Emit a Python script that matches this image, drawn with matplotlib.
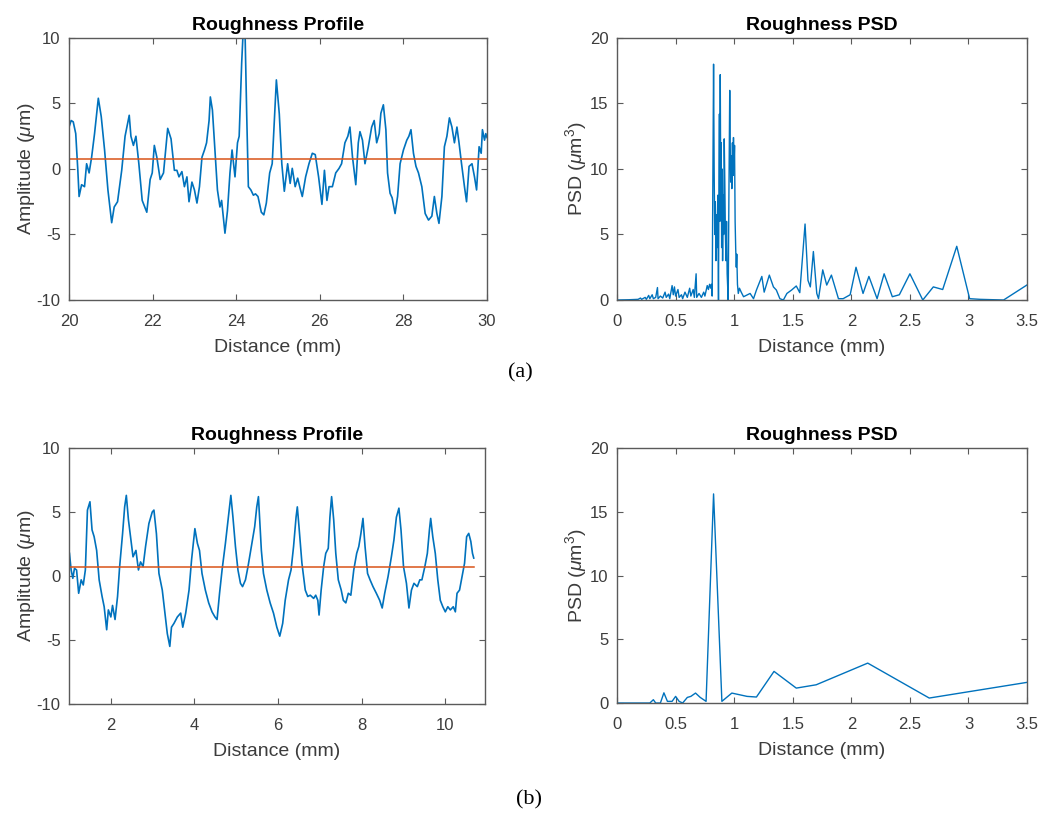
import matplotlib
matplotlib.use('Agg')
import matplotlib.pyplot as plt

# (a) roughness profile
prof_a_x = [20.0, 20.05, 20.1, 20.16, 20.21, 20.24, 20.3, 20.37, 20.42, 20.48, 20.54, 20.61, 20.7, 20.77,
            20.85, 20.93, 21.02, 21.08, 21.16, 21.26, 21.34, 21.44, 21.48, 21.54, 21.6, 21.67, 21.75, 21.86,
            21.94, 21.99, 22.04, 22.1, 22.18, 22.26, 22.36, 22.44, 22.52, 22.58, 22.63, 22.7, 22.76, 22.82,
            22.87, 22.94, 23.0, 23.06, 23.12, 23.18, 23.24, 23.29, 23.35, 23.38, 23.43, 23.49, 23.55, 23.61,
            23.65, 23.73, 23.79, 23.85, 23.9, 23.97, 24.03, 24.07, 24.13, 24.17, 24.21, 24.25, 24.29, 24.35,
            24.41, 24.46, 24.52, 24.6, 24.66, 24.72, 24.8, 24.86, 24.9, 24.96, 25.03, 25.09, 25.15, 25.23,
            25.29, 25.34, 25.41, 25.47, 25.53, 25.58, 25.66, 25.74, 25.82, 25.89, 25.97, 26.05, 26.11, 26.17,
            26.22, 26.3, 26.38, 26.46, 26.52, 26.6, 26.67, 26.72, 26.78, 26.86, 26.92, 26.96, 27.02, 27.08,
            27.16, 27.24, 27.3, 27.36, 27.42, 27.46, 27.52, 27.58, 27.62, 27.68, 27.73, 27.8, 27.86, 27.92,
            28.0, 28.08, 28.13, 28.18, 28.24, 28.3, 28.36, 28.44, 28.52, 28.6, 28.68, 28.74, 28.8, 28.85,
            28.92, 28.98, 29.04, 29.1, 29.16, 29.22, 29.28, 29.33, 29.39, 29.46, 29.51, 29.57, 29.64, 29.7,
            29.75, 29.81, 29.86, 29.89, 29.94, 29.97, 30.0]
prof_a_y = [3.2, 3.7, 3.6, 2.7, -0.1, -2.1, -1.2, -1.35, 0.4, -0.3, 0.9, 2.7, 5.4, 4.0,
            1.45, -1.6, -4.1, -2.9, -2.5, -0.1, 2.5, 4.1, 2.5, 1.8, 2.5, 0.4, -2.4, -3.3,
            -0.8, -0.3, 1.8, 0.9, -0.8, -0.3, 3.1, 2.3, -0.1, -0.1, -0.6, -0.2, -1.35, -0.6,
            -2.5, -1.0, -1.6, -2.6, -1.35, 0.9, 1.45, 2.0, 3.7, 5.5, 4.5, 1.45, -1.6, -2.9,
            -2.4, -4.9, -3.2, -0.3, 1.45, -0.6, 2.0, 2.5, 8.1, 10.8, 10.5, 4.2, -1.35, -1.6,
            -2.0, -1.9, -2.1, -3.3, -3.5, -2.6, -0.3, 0.4, 3.0, 6.8, 4.2, 0.4, -1.7, 0.4,
            -1.1, 0.05, -1.35, -0.7, -1.5, -2.1, -0.6, 0.4, 1.2, 1.1, -0.6, -2.7, -0.1, -2.4,
            -1.35, -1.35, -0.3, 0.05, 0.4, 2.0, 2.5, 3.2, 0.95, -1.2, 2.0, 2.85, 2.2, 0.4,
            1.7, 3.2, 3.7, 2.0, 2.7, 4.25, 4.9, 3.0, -0.3, -1.85, -2.2, -3.4, -2.1, 0.4,
            1.45, 2.2, 2.5, 3.0, 1.2, 0.2, -0.3, -1.35, -3.4, -3.9, -3.6, -2.1, -3.4, -4.15,
            -2.1, 1.7, 2.5, 3.9, 3.2, 2.0, 3.2, 2.0, 0.4, -1.35, -2.5, 0.2, 0.4, -0.6,
            -1.6, 1.7, 1.2, 3.0, 2.2, 2.7, 2.4]
mean_a = 0.8

# (b) roughness profile
prof_b_x = [1.01, 1.05, 1.09, 1.13, 1.18, 1.23, 1.29, 1.34, 1.39, 1.44, 1.5, 1.55, 1.6, 1.66, 1.72,
            1.79, 1.84, 1.9, 1.94, 2.0, 2.04, 2.1, 2.16, 2.21, 2.28, 2.33, 2.37, 2.42, 2.48, 2.53,
            2.6, 2.66, 2.71, 2.77, 2.83, 2.91, 2.99, 3.03, 3.09, 3.15, 3.23, 3.31, 3.35, 3.41, 3.45,
            3.51, 3.59, 3.67, 3.72, 3.79, 3.87, 3.93, 4.01, 4.07, 4.12, 4.18, 4.26, 4.34, 4.42, 4.49,
            4.54, 4.6, 4.66, 4.74, 4.82, 4.87, 4.92, 4.98, 5.04, 5.1, 5.15, 5.22, 5.28, 5.36, 5.44,
            5.49, 5.53, 5.6, 5.65, 5.73, 5.81, 5.89, 5.97, 6.04, 6.11, 6.17, 6.25, 6.31, 6.37, 6.43,
            6.46, 6.5, 6.57, 6.65, 6.71, 6.77, 6.85, 6.9, 6.95, 6.98, 7.03, 7.09, 7.14, 7.2, 7.24,
            7.28, 7.33, 7.38, 7.44, 7.51, 7.56, 7.62, 7.68, 7.74, 7.81, 7.88, 7.93, 7.98, 8.03, 8.08,
            8.14, 8.2, 8.27, 8.35, 8.43, 8.49, 8.55, 8.63, 8.71, 8.77, 8.83, 8.89, 8.94, 9.0, 9.07,
            9.13, 9.19, 9.25, 9.33, 9.39, 9.44, 9.51, 9.57, 9.62, 9.65, 9.7, 9.76, 9.82, 9.88, 9.94,
            10.0, 10.06, 10.12, 10.19, 10.24, 10.28, 10.34, 10.4, 10.46, 10.51, 10.56, 10.61, 10.65, 10.68]
prof_b_y = [1.77, 0.47, -0.18, 0.6, 0.47, -1.35, -0.3, -0.7, 0.47, 5.15, 5.8, 3.6, 3.07, 2.0, -0.3,
            -1.6, -2.4, -4.2, -2.65, -3.2, -2.3, -3.4, -1.6, 0.73, 3.3, 5.4, 6.3, 4.4, 2.8, 1.5,
            2.0, 0.47, 1.1, 0.73, 2.3, 4.1, 5.0, 5.15, 3.3, 0.2, -1.1, -3.4, -4.5, -5.5, -4.0,
            -3.7, -3.2, -2.9, -4.0, -2.9, -1.1, 1.25, 3.7, 2.55, 2.0, 0.2, -1.1, -2.1, -2.8, -3.2,
            -3.4, -1.35, 0.47, 2.55, 4.9, 6.3, 4.6, 2.3, 0.47, -0.57, -0.83, -0.3, 0.73, 2.3, 3.85,
            5.4, 6.2, 2.0, 0.2, -1.1, -2.1, -2.9, -4.0, -4.7, -3.7, -1.9, -0.3, 0.47, 2.3, 4.6,
            5.4, 3.85, 1.0, -1.1, -1.6, -1.5, -1.75, -1.5, -1.9, -3.05, -1.1, 0.73, 1.77, 2.16, 4.6,
            6.2, 4.4, 1.77, -0.3, -1.1, -1.9, -2.1, -1.35, -1.5, 0.47, 1.77, 2.3, 3.3, 4.5, 2.3,
            0.2, -0.3, -0.83, -1.35, -1.9, -2.5, -1.35, -0.05, 1.5, 2.8, 4.6, 5.3, 3.6, 0.73, -0.57,
            -2.5, -1.1, -0.57, -0.83, -0.3, -0.3, 0.73, 1.77, 3.6, 4.5, 3.07, 1.77, -0.3, -1.9, -2.4,
            -2.8, -2.4, -2.65, -2.4, -2.8, -1.35, -1.1, -0.05, 1.0, 3.07, 3.33, 2.7, 1.77, 1.4]
mean_b = 0.68

# (a) PSD
psd_a_x = [0.0, 0.1, 0.18, 0.2, 0.21, 0.24, 0.25, 0.27, 0.28, 0.3, 0.31, 0.33, 0.345, 0.35, 0.37,
           0.39, 0.41, 0.42, 0.44, 0.45, 0.47, 0.48, 0.49, 0.5, 0.52, 0.53, 0.55, 0.56, 0.58, 0.6,
           0.62, 0.63, 0.65, 0.66, 0.675, 0.68, 0.7, 0.72, 0.74, 0.75, 0.77, 0.78, 0.79,
           0.80, 0.806, 0.812, 0.818, 0.824, 0.829, 0.834, 0.839, 0.844, 0.849, 0.854, 0.86, 0.866,
           0.87, 0.874, 0.877, 0.881, 0.885, 0.889, 0.893, 0.897, 0.901, 0.906, 0.91, 0.915, 0.92,
           0.925, 0.93, 0.935, 0.94, 0.949, 0.955, 0.962, 0.966, 0.97, 0.975, 0.98, 0.985, 0.99,
           0.994, 0.998, 1.003, 1.008, 1.013, 1.018, 1.022, 1.028, 1.035, 1.045, 1.06,
           1.08, 1.136, 1.165, 1.19, 1.236, 1.256, 1.3, 1.335, 1.36, 1.39, 1.42, 1.45, 1.49, 1.53,
           1.56, 1.605, 1.63, 1.65, 1.676, 1.705, 1.72, 1.756, 1.79, 1.83, 1.89, 1.93, 1.99, 2.04,
           2.1, 2.15, 2.22, 2.28, 2.35, 2.41, 2.5, 2.61, 2.7, 2.78, 2.9, 3.01, 3.1, 3.3, 3.5]
psd_a_y = [0.0, 0.02, 0.05, 0.15, 0.05, 0.2, 0.05, 0.35, 0.1, 0.4, 0.1, 0.2, 0.95, 0.1, 0.3,
           0.15, 0.6, 0.2, 0.45, 0.1, 1.1, 0.4, 1.0, 0.3, 0.8, 0.2, 0.4, 0.1, 0.6, 0.2,
           0.9, 0.3, 0.8, 0.2, 2.0, 0.2, 0.5, 0.2, 0.6, 0.3, 1.1, 0.8, 1.2,
           0.9, 1.2, 0.3, 9.0, 18.0, 10.0, 5.0, 7.5, 3.0, 6.5, 4.0, 8.0, 0.0,
           9.0, 14.2, 6.0, 17.2, 9.0, 12.0, 4.0, 10.0, 3.0, 8.0, 5.0, 12.3, 9.0,
           5.0, 3.0, 6.0, 2.0, 0.0, 8.0, 16.0, 12.0, 9.0, 11.0, 8.5, 12.0, 9.5,
           12.4, 10.0, 11.8, 6.0, 3.9, 2.5, 3.5, 1.2, 0.5, 0.9, 0.6,
           0.25, 0.5, 0.1, 0.76, 1.8, 0.6, 1.9, 1.0, 0.76, 0.1, 0.0, 0.5, 0.76, 1.07,
           0.56, 5.8, 1.5, 1.0, 3.7, 0.5, 0.1, 2.3, 1.14, 1.9, 0.1, 0.1, 0.4, 2.5,
           0.5, 1.8, 0.1, 2.0, 0.25, 0.4, 2.0, 0.0, 1.0, 0.8, 4.1, 0.1, 0.05, 0.0, 1.15]

# (b) PSD
psd_b_x = [0.0, 0.28, 0.31, 0.33, 0.37, 0.4, 0.43, 0.47, 0.5, 0.53, 0.56, 0.6, 0.63, 0.67, 0.71,
           0.76, 0.824, 0.895, 0.98, 1.11, 1.19, 1.34, 1.53, 1.7, 2.14, 2.665, 3.5]
psd_b_y = [0.0, 0.0, 0.26, 0.0, 0.0, 0.8, 0.13, 0.13, 0.52, 0.13, 0.0, 0.44, 0.52, 0.78, 0.44,
           0.13, 16.4, 0.13, 0.78, 0.52, 0.47, 2.48, 1.17, 1.43, 3.13, 0.39, 1.62]

psd_ticks = [0, 0.5, 1, 1.5, 2, 2.5, 3, 3.5]
psd_ticklabels = ['0', '0.5', '1', '1.5', '2', '2.5', '3', '3.5']

blue = '#0072BD'
orange = '#D95319'
gray = '#3c3c3c'

plt.rcParams['font.family'] = ['Liberation Sans', 'DejaVu Sans']
plt.rcParams['axes.unicode_minus'] = False
plt.rcParams['mathtext.fontset'] = 'custom'
plt.rcParams['mathtext.rm'] = 'Liberation Sans'
plt.rcParams['mathtext.it'] = 'Liberation Sans:italic'

fig = plt.figure(figsize=(10.51, 8.15), dpi=100)
ax1 = fig.add_axes([0.0657, 0.6319, 0.3977, 0.3215])
ax2 = fig.add_axes([0.5871, 0.6319, 0.3901, 0.3215])
ax3 = fig.add_axes([0.0657, 0.1362, 0.3958, 0.3141])
ax4 = fig.add_axes([0.5871, 0.1374, 0.3901, 0.3129])


def style(ax):
    for s in ax.spines.values():
        s.set_color('#5a5a5a')
        s.set_linewidth(1.0)
    ax.tick_params(direction='in', top=True, right=True, length=4, width=0.8,
                   color='#5a5a5a', labelcolor=gray, labelsize=12)
    ax.tick_params(axis='x', pad=10)
    ax.tick_params(axis='y', pad=6)


# profiles
ax1.plot(prof_a_x, prof_a_y, color=blue, lw=1.2)
ax1.plot([prof_a_x[0], prof_a_x[-1]], [mean_a, mean_a], color=orange, lw=1.1)
ax1.set_xlim(20, 30)
ax1.set_xticks([20, 22, 24, 26, 28, 30])

ax3.plot(prof_b_x, prof_b_y, color=blue, lw=1.2)
ax3.plot([prof_b_x[0], prof_b_x[-1]], [mean_b, mean_b], color=orange, lw=1.1)
ax3.set_xlim(1.0, 10.95)
ax3.set_xticks([2, 4, 6, 8, 10])

for ax in (ax1, ax3):
    ax.set_ylim(-10, 10)
    ax.set_yticks([-10, -5, 0, 5, 10])
    ax.set_title('Roughness Profile', fontsize=14, fontweight='bold', pad=6)
    ax.set_xlabel('Distance (mm)', fontsize=14, color=gray, labelpad=7)
    ax.set_ylabel(r'Amplitude ($\mu$m)', fontsize=14, color=gray, labelpad=0)
    style(ax)

# PSDs
ax2.plot(psd_a_x, psd_a_y, color=blue, lw=1.0)
ax4.plot(psd_b_x, psd_b_y, color=blue, lw=1.0)

for ax in (ax2, ax4):
    ax.set_xlim(0, 3.5)
    ax.set_ylim(0, 20)
    ax.set_xticks(psd_ticks)
    ax.set_xticklabels(psd_ticklabels)
    ax.set_yticks([0, 5, 10, 15, 20])
    ax.set_title('Roughness PSD', fontsize=14, fontweight='bold', pad=6)
    ax.set_xlabel('Distance (mm)', fontsize=14, color=gray, labelpad=7)
    ax.set_ylabel(r'PSD ($\mu$m$^3$)', fontsize=14, color=gray, labelpad=1)
    style(ax)

fig.text(0.4948, 0.543, '(a)', family='Liberation Serif', fontsize=16, ha='center', va='center')
fig.text(0.5033, 0.018, '(b)', family='Liberation Serif', fontsize=16, ha='center', va='center')

fig.savefig('out.png', dpi=100)
